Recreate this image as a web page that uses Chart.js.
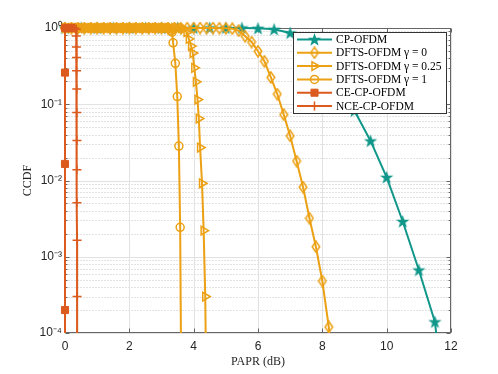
<!DOCTYPE html>
<html>
<head>
<meta charset="utf-8">
<script src="https://cdn.jsdelivr.net/npm/chart.js@4.4.0/dist/chart.umd.min.js"></script>
<style>
  html, body { margin: 0; padding: 0; background: #fff; }
  canvas { display: block; }
</style>
</head>
<body>
<canvas id="ccdf" width="498" height="374"></canvas>
<script>
// CCDF of PAPR
const seriesNames = ['CP-OFDM', 'DFTS-OFDM \u03b3 = 0', 'DFTS-OFDM \u03b3 = 0.25', 'DFTS-OFDM \u03b3 = 1', 'CE-CP-OFDM', 'NCE-CP-OFDM'];

const cpX = [0, 0.5, 1, 1.5, 2, 2.5, 3, 3.5, 4, 4.5, 5, 5.5, 6, 6.5, 7, 7.5, 8, 8.5, 9, 9.5, 10, 10.5, 11, 11.5, 12];
const cpY = [1, 1, 1, 1, 1, 1, 1, 1, 1, 1, 1, 1, 0.99, 0.96, 0.86, 0.62, 0.37, 0.19, 0.082, 0.033, 0.011, 0.0029, 0.00067, 0.00014, 0.000002];

const g0X = [0, 0.2, 0.4, 0.6, 0.8, 1, 1.2, 1.4, 1.6, 1.8, 2, 2.2, 2.4, 2.6, 2.8, 3, 3.2, 3.4, 3.6, 3.8, 4, 4.2, 4.4, 4.6,
             4.8, 5, 5.2, 5.4, 5.6, 5.8, 6, 6.2, 6.4, 6.6, 6.8, 7, 7.2, 7.4, 7.6, 7.8, 8, 8.2, 8.4];
const g0Y = [1, 1, 1, 1, 1, 1, 1, 1, 1, 1, 1, 1, 1, 1, 1, 1, 1, 1, 1, 1, 1, 1, 1, 1,
             0.995, 0.99, 0.98, 0.92, 0.78, 0.655, 0.495, 0.366, 0.225, 0.136, 0.073, 0.0384, 0.018, 0.0082, 0.0032, 0.00135, 0.00048, 0.00012, 0.00001];

const g25X = [0, 0.1, 0.2, 0.3, 0.4, 0.5, 0.6, 0.7, 0.8, 0.9, 1, 1.1, 1.2, 1.3, 1.4, 1.5, 1.6, 1.7, 1.8, 1.9, 2, 2.1, 2.2, 2.3, 2.4, 2.5,
              2.6, 2.7, 2.8, 2.9, 3, 3.1, 3.2, 3.3, 3.4, 3.5, 3.6,
              3.7, 3.78, 3.85, 3.92, 3.97, 4.02, 4.07, 4.12, 4.16, 4.2, 4.26, 4.31, 4.36, 4.4];
const g25Y = [1, 1, 1, 1, 1, 1, 1, 1, 1, 1, 1, 1, 1, 1, 1, 1, 1, 1, 1, 1, 1, 1, 1, 1, 1, 1,
              1, 1, 1, 1, 1, 1, 1, 1, 1, 1, 1,
              0.98, 0.88, 0.72, 0.58, 0.47, 0.3, 0.197, 0.115, 0.065, 0.027, 0.0092, 0.0022, 0.0003, 0.00001];

const g1X = [0, 0.1, 0.2, 0.3, 0.4, 0.5, 0.6, 0.7, 0.8, 0.9, 1, 1.1, 1.2, 1.3, 1.4, 1.5, 1.6, 1.7, 1.8, 1.9, 2, 2.1, 2.2, 2.3, 2.4, 2.5,
             2.6, 2.7, 2.8, 2.9, 3, 3.1, 3.2,
             3.25, 3.3, 3.33, 3.36, 3.43, 3.49, 3.54, 3.58, 3.62];
const g1Y = [1, 1, 1, 1, 1, 1, 1, 1, 1, 1, 1, 1, 1, 1, 1, 1, 1, 1, 1, 1, 1, 1, 1, 1, 1, 1,
             1, 1, 1, 1, 1, 1, 1,
             0.97, 0.93, 0.88, 0.64, 0.344, 0.126, 0.0283, 0.00243, 0.00001];

const ceX = [0.2, 0.1, 0, 0, 0, 0, 0];
const ceY = [1, 1, 1, 0.26, 0.0165, 0.0002, 0.000001];

const nceX = [0, 0.1, 0.2, 0.3, 0.35, 0.35, 0.355, 0.36, 0.36, 0.365, 0.365, 0.37, 0.37, 0.37, 0.375, 0.375, 0.38];
const nceY = [1, 1, 1, 1, 0.96, 0.786, 0.565, 0.41, 0.274, 0.158, 0.078, 0.0334, 0.0138, 0.0051, 0.00165, 0.0003, 0.000001];

const xTickValues = [0, 2, 4, 6, 8, 10, 12];
const yTickValues = [0.0001, 0.001, 0.01, 0.1, 1];
const yTickLabels = ['10\u207b\u2074', '10\u207b\u00b3', '10\u207b\u00b2', '10\u207b\u00b9', '10\u2070'];

const TEAL = '#10978a';
const ORANGE = '#eca013';
const RED = '#dc5a1e';

// marker images for the filled star and the tall open diamond
function makeStar(color) {
  const c = document.createElement('canvas');
  c.width = 15; c.height = 15;
  const g = c.getContext('2d');
  g.beginPath();
  for (let i = 0; i < 10; i++) {
    const r = i % 2 === 0 ? 7 : 2.8;
    const a = -Math.PI / 2 + i * Math.PI / 5;
    const px = 7.5 + r * Math.cos(a), py = 8 + r * Math.sin(a);
    i === 0 ? g.moveTo(px, py) : g.lineTo(px, py);
  }
  g.closePath();
  g.fillStyle = color;
  g.fill();
  return c;
}
function makeDiamond(color) {
  const c = document.createElement('canvas');
  c.width = 10; c.height = 13;
  const g = c.getContext('2d');
  g.beginPath();
  g.moveTo(5, 1); g.lineTo(8.8, 6.5); g.lineTo(5, 12); g.lineTo(1.2, 6.5);
  g.closePath();
  g.strokeStyle = color;
  g.lineWidth = 1.5;
  g.stroke();
  return c;
}

const pts = (xs, ys) => xs.map((x, i) => ({ x: x, y: ys[i] }));
const clipBox = { left: 10, top: 10, right: 10, bottom: 0 };

const datasets = [
  { label: seriesNames[0], data: pts(cpX, cpY), borderColor: TEAL, borderWidth: 2,
    pointStyle: makeStar(TEAL), pointRadius: 6, order: 6 },
  { label: seriesNames[1], data: pts(g0X, g0Y), borderColor: ORANGE, borderWidth: 2,
    pointStyle: makeDiamond(ORANGE), pointRadius: 5, order: 5 },
  { label: seriesNames[2], data: pts(g25X, g25Y), borderColor: ORANGE, borderWidth: 2,
    pointStyle: 'triangle', pointRotation: 90, pointRadius: 5, pointBorderWidth: 1.5,
    pointBackgroundColor: 'rgba(0,0,0,0)', order: 4 },
  { label: seriesNames[3], data: pts(g1X, g1Y), borderColor: ORANGE, borderWidth: 2,
    pointStyle: 'circle', pointRadius: 4, pointBorderWidth: 1.5,
    pointBackgroundColor: 'rgba(0,0,0,0)', order: 3 },
  { label: seriesNames[4], data: pts(ceX, ceY), borderColor: RED, borderWidth: 2,
    pointStyle: 'rect', pointRadius: 5, pointBackgroundColor: RED, pointBorderWidth: 1, order: 2 },
  { label: seriesNames[5], data: pts(nceX, nceY), borderColor: RED, borderWidth: 2,
    pointStyle: 'cross', pointRadius: 4.5, pointBorderWidth: 1.5, order: 1 }
];
datasets.forEach(d => { d.tension = 0; d.fill = false; d.clip = clipBox; d.pointBorderColor = d.borderColor; });

// grid, box and tick marks, drawn under the curves like matlab does
const frame = {
  id: 'frame',
  beforeDatasetsDraw(chart) {
    const { ctx, chartArea: a, scales: { x, y } } = chart;
    const seg = (x1, y1, x2, y2) => { ctx.beginPath(); ctx.moveTo(x1, y1); ctx.lineTo(x2, y2); ctx.stroke(); };
    const L = a.left + 0.5, R = a.right - 0.5, T = a.top + 0.5, B = a.bottom - 0.5;
    ctx.save();
    ctx.lineWidth = 1;

    ctx.strokeStyle = '#c4c4c4';
    ctx.setLineDash([1, 2]);
    for (let e = -4; e < 0; e++) {
      for (let m = 2; m <= 9; m++) {
        const py = Math.round(y.getPixelForValue(m * Math.pow(10, e))) + 0.5;
        seg(L, py, R, py);
      }
    }
    ctx.setLineDash([]);
    ctx.strokeStyle = '#e2e2e2';
    xTickValues.forEach(v => { const px = Math.round(x.getPixelForValue(v)) + 0.5; seg(px, T, px, B); });
    yTickValues.forEach(v => { const py = Math.round(y.getPixelForValue(v)) + 0.5; seg(L, py, R, py); });

    ctx.strokeStyle = '#666';
    ctx.strokeRect(L, T, R - L, B - T);
    xTickValues.forEach(v => {
      const px = Math.round(x.getPixelForValue(v)) + 0.5;
      seg(px, B, px, B - 4); seg(px, T, px, T + 4);
    });
    yTickValues.forEach(v => {
      const py = Math.round(y.getPixelForValue(v)) + 0.5;
      seg(L, py, L + 4, py); seg(R, py, R - 4, py);
    });
    for (let e = -4; e < 0; e++) {
      for (let m = 2; m <= 9; m++) {
        const py = Math.round(y.getPixelForValue(m * Math.pow(10, e))) + 0.5;
        seg(L, py, L + 2, py); seg(R, py, R - 2, py);
      }
    }
    ctx.restore();
  }
};

// boxed legend in the top right corner with line + marker samples
const boxLegend = {
  id: 'boxLegend',
  afterDraw(chart) {
    const { ctx } = chart;
    const left = 293, top = 32, right = 447, bottom = 114;
    ctx.save();
    ctx.fillStyle = '#fff';
    ctx.fillRect(left, top, right - left, bottom - top);
    ctx.strokeStyle = '#333';
    ctx.lineWidth = 1;
    ctx.strokeRect(left + 0.5, top + 0.5, right - left - 1, bottom - top - 1);
    ctx.font = '11.5px "Liberation Serif", serif';
    ctx.textBaseline = 'middle';
    chart.data.datasets.forEach((d, i) => {
      const cy = 39.5 + i * 13.3;
      ctx.strokeStyle = d.borderColor;
      ctx.lineWidth = 2;
      ctx.beginPath(); ctx.moveTo(297, cy); ctx.lineTo(332, cy); ctx.stroke();
      ctx.lineWidth = d.pointBorderWidth || 1.5;
      ctx.fillStyle = d.pointBackgroundColor || d.borderColor;
      Chart.helpers.drawPoint(ctx, {
        pointStyle: d.pointStyle, radius: d.pointRadius, rotation: d.pointRotation || 0,
        borderWidth: d.pointBorderWidth || 1.5
      }, 314.5, cy);
      ctx.fillStyle = '#000';
      ctx.fillText(d.label, 336, cy + 0.5);
    });
    ctx.restore();
  }
};

new Chart(document.getElementById('ccdf'), {
  type: 'line',
  data: { datasets: datasets },
  options: {
    responsive: false,
    animation: false,
    devicePixelRatio: 1,
    layout: { padding: { top: 28, right: 47, left: 0, bottom: 0 } },
    plugins: { legend: { display: false }, tooltip: { enabled: false } },
    scales: {
      x: {
        type: 'linear', min: 0, max: 12,
        afterFit: s => { s.height = 41; },
        afterBuildTicks: s => { s.ticks = xTickValues.map(v => ({ value: v })); },
        grid: { display: false, drawTicks: false },
        border: { display: false },
        ticks: { padding: 6, color: '#262626', font: { family: '"Liberation Sans", Arial, sans-serif', size: 12 }, maxRotation: 0 },
        title: { display: true, text: 'PAPR (dB)', color: '#262626',
                 font: { family: '"Liberation Serif", serif', size: 12 }, padding: { top: 0, bottom: 5 } }
      },
      y: {
        type: 'logarithmic', min: 0.0001, max: 1,
        afterFit: s => { s.width = 65; },
        afterBuildTicks: s => { s.ticks = yTickValues.map(v => ({ value: v })); },
        grid: { display: false, drawTicks: false },
        border: { display: false },
        ticks: { padding: 3, color: '#262626', font: { family: '"Liberation Sans", Arial, sans-serif', size: 12 },
                 callback: (v, i) => yTickLabels[i] },
        title: { display: true, text: 'CCDF', color: '#262626',
                 font: { family: '"Liberation Serif", serif', size: 12 }, padding: { top: 21, bottom: 0 } }
      }
    }
  },
  plugins: [frame, boxLegend]
});
</script>
</body>
</html>
